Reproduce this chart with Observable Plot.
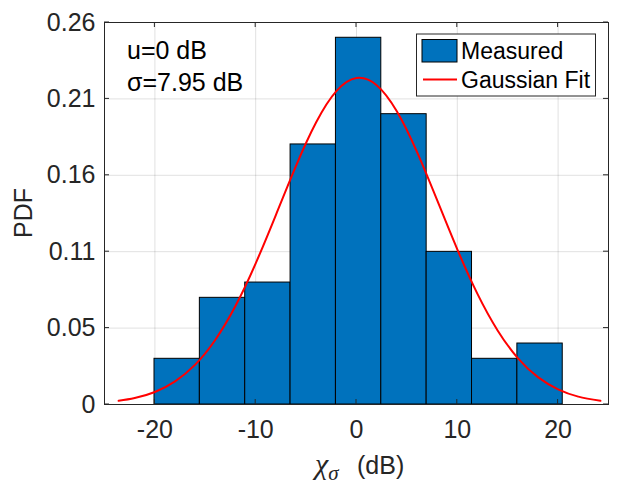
<!DOCTYPE html>
<html><head><meta charset="utf-8">
<script src="https://cdn.jsdelivr.net/npm/d3@7"></script>
<script src="https://cdn.jsdelivr.net/npm/@observablehq/plot@0.6"></script>
<style>
body{margin:0;background:#fff;}
svg{font-family:"Liberation Sans", Arial, Helvetica, sans-serif;}
</style>
</head><body><div id="chart"></div>
<script>
// ---- data ----
const binEdges = [-20.04, -15.54, -11.04, -6.54, -2.04, 2.46, 6.96, 11.46, 15.96, 20.46];
const binPdf   = [0.0314, 0.0733, 0.0838, 0.1787, 0.2520, 0.1995, 0.1049, 0.0314, 0.0419];
const fitX = [-23.6, -22, -20, -18, -16, -14, -12, -10, -8, -6, -4, -2, 0, 2, 4, 6, 8, 10, 12, 14, 16, 18, 20, 22, 24.2];
const fitY = [0.0025, 0.0044, 0.0086, 0.0159, 0.0274, 0.0445, 0.0678, 0.0970, 0.1302, 0.1640, 0.1939, 0.2153, 0.2243,
              0.2194, 0.2015, 0.1736, 0.1404, 0.1066, 0.0760, 0.0509, 0.0319, 0.0188, 0.0104, 0.0054, 0.0025];
const xTicks = [-20, -10, 0, 10, 20];
const xTickLabels = ["-20", "-10", "0", "10", "20"];
const yTicks = [0, 0.0525, 0.105, 0.1575, 0.21, 0.2625];
const yTickLabels = ["0", "0.05", "0.11", "0.16", "0.21", "0.26"];
const xDomain = [-25, 25];
const yDomain = [0, 0.2625];
const seriesNames = ["Measured", "Gaussian Fit"];
const statsLines = ["u=0 dB", "σ=7.95 dB"];
const yLabel = "PDF";

// ---- build ----
const bins = binPdf.map((v, i) => ({x1: binEdges[i], x2: binEdges[i + 1], pdf: v}));
const fit = fitX.map((x, i) => ({x, y: fitY[i]}));
const ink = "#262626";
const barFill = "#0072BD";

const plot = Plot.plot({
  width: 625, height: 485,
  marginLeft: 104, marginRight: 17, marginTop: 22, marginBottom: 81,
  style: {fontFamily: '"Liberation Sans", Arial, sans-serif', fontSize: "25px", color: ink, background: "#fff"},
  x: {domain: xDomain},
  y: {domain: yDomain},
  marks: [
    Plot.gridX(xTicks, {stroke: "#000", strokeOpacity: 0.12}),
    Plot.gridY(yTicks, {stroke: "#000", strokeOpacity: 0.12}),
    Plot.rect(bins, {x1: "x1", x2: "x2", y1: 0, y2: "pdf", fill: barFill, stroke: "#000", strokeWidth: 1}),
    Plot.line(fit, {x: "x", y: "y", stroke: "#ff0000", strokeWidth: 2, curve: "natural"}),
    Plot.axisX(xTicks, {tickSize: 0, tickPadding: 16, label: null, fontSize: 25, fill: ink, tickFormat: (d, i) => xTickLabels[i]}),
    Plot.axisY(yTicks, {tickSize: 0, tickPadding: 9, label: null, fontSize: 25, fill: ink, tickFormat: (d, i) => yTickLabels[i]}),
    Plot.frame({stroke: ink, strokeWidth: 1})
  ]
});
document.getElementById("chart").appendChild(plot);

const svg = d3.select(plot);
const sx = plot.scale("x"), sy = plot.scale("y");
const L = sx.apply(xDomain[0]), R = sx.apply(xDomain[1]);
const B = sy.apply(yDomain[0]), T = sy.apply(yDomain[1]);
const tl = 5;
const tg = svg.append("g").attr("stroke", ink).attr("stroke-width", 1);
xTicks.forEach(v => {
  const px = sx.apply(v);
  tg.append("line").attr("x1", px).attr("x2", px).attr("y1", B).attr("y2", B - tl);
  tg.append("line").attr("x1", px).attr("x2", px).attr("y1", T).attr("y2", T + tl);
});
yTicks.forEach(v => {
  const py = sy.apply(v);
  tg.append("line").attr("x1", L).attr("x2", L + tl).attr("y1", py).attr("y2", py);
  tg.append("line").attr("x1", R).attr("x2", R - tl).attr("y1", py).attr("y2", py);
});

// y label
svg.append("text").attr("transform", `translate(32,${(T + B) / 2}) rotate(-90)`)
  .attr("text-anchor", "middle").attr("fill", ink).attr("font-size", 25).text(yLabel);

// x label: chi_sigma (dB)
const xl = svg.append("text").attr("x", 315).attr("y", 474).attr("text-anchor", "start").attr("fill", ink).attr("font-size", 25);
xl.append("tspan").attr("font-family", '"Liberation Serif", "DejaVu Serif", serif').attr("font-style", "italic").attr("font-size", 30).text("χ");
xl.append("tspan").attr("font-family", '"Liberation Serif", "DejaVu Serif", serif').attr("font-style", "italic").attr("font-size", 21).attr("dy", 6).text("σ");
xl.append("tspan").attr("x", 357).attr("dy", -6).text("(dB)");

// stats annotation
statsLines.forEach((s, i) => {
  svg.append("text").attr("x", 127).attr("y", 50 + i * 31.5).attr("dominant-baseline", "central")
    .attr("text-anchor", "start").attr("fill", "#000").attr("font-size", 25).text(s);
});

// legend
const lg = svg.append("g");
lg.append("rect").attr("x", 416.5).attr("y", 34).attr("width", 179).attr("height", 62)
  .attr("fill", "#fff").attr("stroke", ink).attr("stroke-width", 1);
lg.append("rect").attr("x", 422).attr("y", 39.5).attr("width", 35).attr("height", 22.5)
  .attr("fill", barFill).attr("stroke", "#000").attr("stroke-width", 1);
lg.append("line").attr("x1", 423).attr("x2", 457).attr("y1", 79.5).attr("y2", 79.5)
  .attr("stroke", "#ff0000").attr("stroke-width", 2);
seriesNames.forEach((s, i) => {
  lg.append("text").attr("x", 461).attr("y", 51 + i * 29).attr("dominant-baseline", "central")
    .attr("text-anchor", "start").attr("fill", "#000").attr("font-size", 23).text(s);
});
</script>
</body></html>
